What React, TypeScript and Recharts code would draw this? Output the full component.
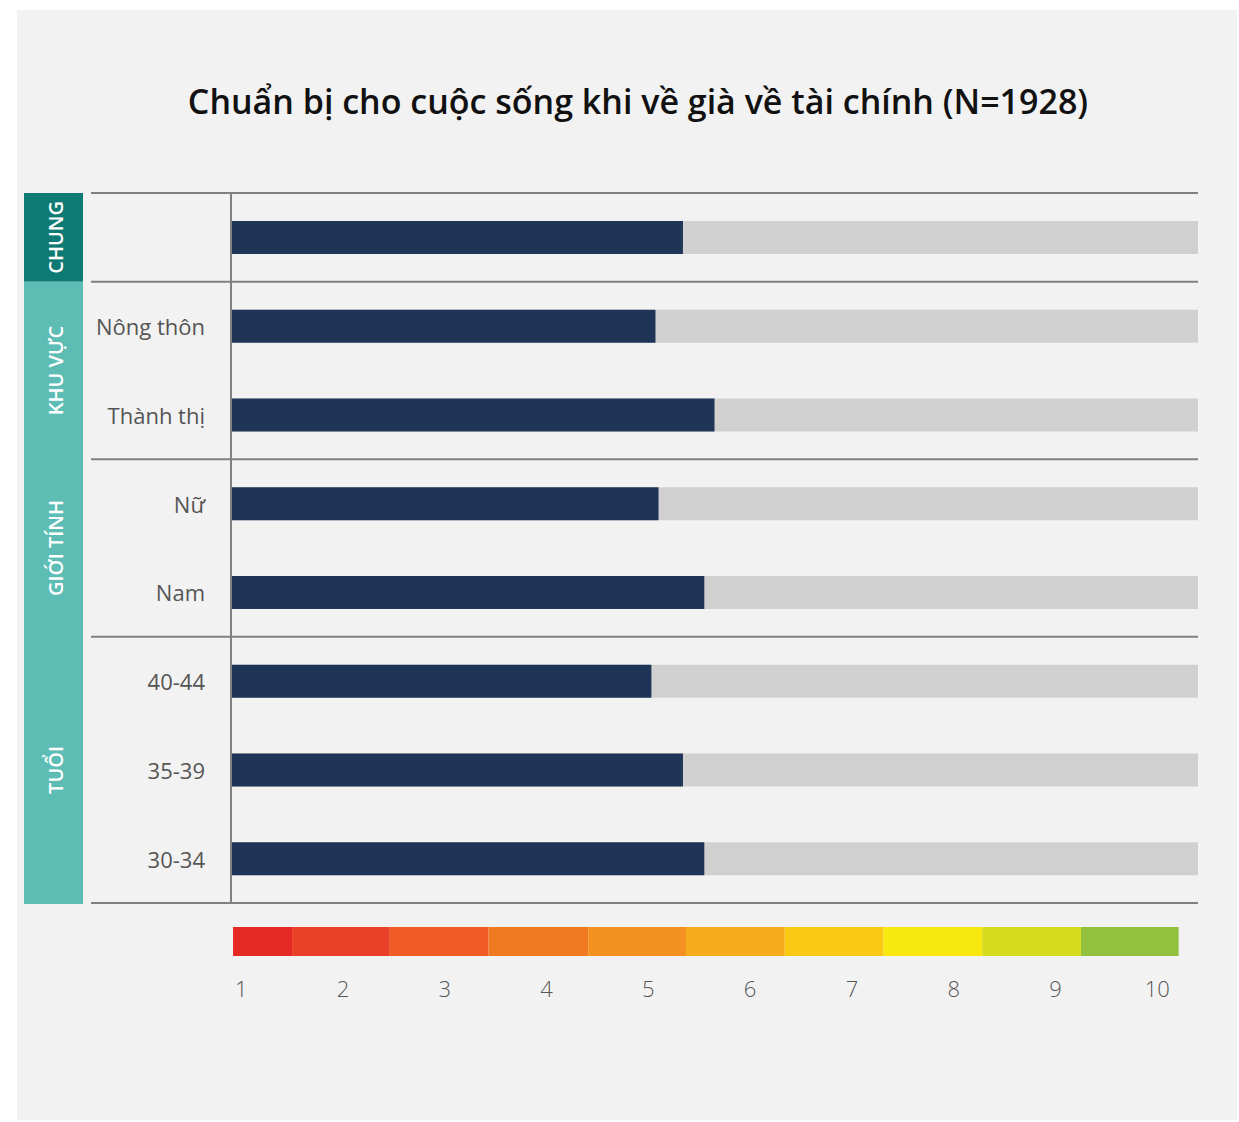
import { BarChart, Bar, XAxis, YAxis } from 'recharts';

const rowLabels = ['', 'Nông thôn', 'Thành thị', 'Nữ', 'Nam', '40-44', '35-39', '30-34'];
const rowGroups = ['CHUNG', 'KHU VỰC', 'KHU VỰC', 'GIỚI TÍNH', 'GIỚI TÍNH', 'TUỔI', 'TUỔI', 'TUỔI'];
const rowScores = [5.34, 5.07, 5.65, 5.1, 5.55, 5.03, 5.34, 5.55];

const scaleTicks = [1, 2, 3, 4, 5, 6, 7, 8, 9, 10];
// edges of the colour steps under the chart, read in the same units as the bars
const stepEdges = [0.92, 1.5, 2.46, 3.43, 4.41, 5.37, 6.34, 7.31, 8.28, 9.25, 10.21];
const stepColors = [
  '#e52a25', '#ea4027', '#ef5c23', '#f07a22', '#f49120',
  '#f5ab1c', '#f9c914', '#f7e80f', '#d8dc1f', '#92c13e',
];

const DOMAIN: [number, number] = [0.9, 10.4];
const FONT = '"Open Sans", "Noto Sans", sans-serif';

const W = 1239;
const PLOT_LEFT = 231;
const PLOT_RIGHT = 1198;
const PLOT_TOP = 193;
const PLOT_BOTTOM = 903;
const ROW_H = (PLOT_BOTTOM - PLOT_TOP) / rowLabels.length;

const rows = rowLabels.map((label, i) => ({ label, group: rowGroups[i], score: rowScores[i] }));

// stacked steps start at 0, so the first (hidden) piece runs up to the first edge
const stepRow: Record<string, number | string> = { name: 'scale', s0: stepEdges[0] };
stepColors.forEach((_, i) => {
  stepRow[`s${i + 1}`] = +(stepEdges[i + 1] - stepEdges[i]).toFixed(3);
});

function RowTick(props: any) {
  const { y, index, payload } = props;
  const group = rowGroups[index];
  const first = index === 0 || rowGroups[index - 1] !== group;
  const count = rowGroups.filter((g) => g === group).length;
  const top = y - ROW_H / 2;
  const isLast = index === rowGroups.length - 1;
  const mid = top + (count * ROW_H) / 2;
  return (
    <g>
      {first && (
        <g>
          <rect
            x={24}
            y={top}
            width={59}
            height={count * ROW_H + (isLast || group === 'CHUNG' ? 0 : 1)}
            fill={group === 'CHUNG' ? '#0e7a74' : '#5dbdb5'}
          />
          <line x1={91} x2={PLOT_RIGHT} y1={top} y2={top} stroke="#808080" strokeWidth={2} />
          <text
            x={55}
            y={mid}
            transform={`rotate(-90, 55, ${mid})`}
            textAnchor="middle"
            dominantBaseline="central"
            fill="#ffffff"
            fontFamily={FONT}
            fontWeight={600}
            fontSize={20}
          >
            {group}
          </text>
        </g>
      )}
      {isLast && (
        <line
          x1={91}
          x2={PLOT_RIGHT}
          y1={y + ROW_H / 2}
          y2={y + ROW_H / 2}
          stroke="#808080"
          strokeWidth={2}
        />
      )}
      <text
        x={205}
        y={y}
        textAnchor="end"
        dominantBaseline="central"
        fill="#555555"
        fontFamily={FONT}
        fontSize={22}
      >
        {payload.value}
      </text>
    </g>
  );
}

export default function App() {
  return (
    <div
      style={{
        position: 'absolute',
        left: 0,
        top: 0,
        width: W,
        height: 1122,
        background: '#ffffff',
      }}
    >
      <div
        style={{
          position: 'absolute',
          left: 17,
          top: 10,
          width: 1220,
          height: 1110,
          background: '#f2f2f2',
        }}
      />
      <div
        style={{
          position: 'absolute',
          left: 0,
          top: 78,
          width: 1276,
          textAlign: 'center',
          fontFamily: FONT,
          fontWeight: 600,
          fontSize: 34,
          color: '#111111',
        }}
      >
        Chuẩn bị cho cuộc sống khi về già về tài chính (N=1928)
      </div>

      <div style={{ position: 'absolute', left: 0, top: 0 }}>
        <BarChart
          width={W}
          height={PLOT_BOTTOM + 17}
          data={rows}
          layout="vertical"
          margin={{ top: PLOT_TOP, right: W - PLOT_RIGHT, bottom: 17, left: 0 }}
          barSize={33}
        >
          <XAxis type="number" domain={DOMAIN} hide allowDataOverflow />
          <YAxis
            type="category"
            dataKey="label"
            width={PLOT_LEFT}
            axisLine={{ stroke: '#808080', strokeWidth: 2 }}
            tickLine={false}
            tickSize={0}
            tick={<RowTick />}
            interval={0}
          />
          <Bar
            dataKey="score"
            fill="#1e3557"
            background={{ fill: '#d0d0d0' }}
            isAnimationActive={false}
          />
        </BarChart>
      </div>

      <div style={{ position: 'absolute', left: 0, top: 900 }}>
        <BarChart
          width={W}
          height={130}
          data={[stepRow]}
          layout="vertical"
          margin={{ top: 27, right: W - PLOT_RIGHT, bottom: 0, left: PLOT_LEFT }}
          barCategoryGap={0}
        >
          <XAxis
            type="number"
            domain={DOMAIN}
            ticks={scaleTicks}
            allowDataOverflow
            axisLine={false}
            tickLine={false}
            tickSize={0}
            tickMargin={25}
            height={74}
            tick={{ fill: '#555555', fontSize: 22, fontFamily: FONT, fontWeight: 300 }}
          />
          <YAxis type="category" dataKey="name" hide />
          <Bar dataKey="s0" stackId="c" fill="transparent" isAnimationActive={false} />
          {stepColors.map((c, i) => (
            <Bar key={i} dataKey={`s${i + 1}`} stackId="c" fill={c} isAnimationActive={false} />
          ))}
        </BarChart>
      </div>
    </div>
  );
}
